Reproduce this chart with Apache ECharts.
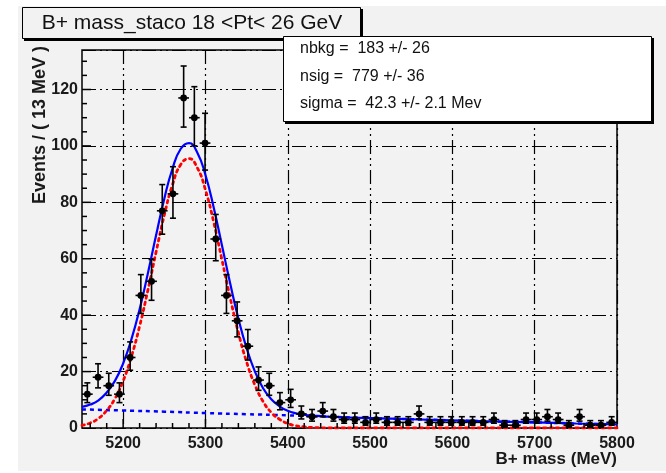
<!DOCTYPE html>
<html>
<head>
<meta charset="utf-8">
<script src="https://cdn.jsdelivr.net/npm/echarts@6/dist/echarts.min.js"></script>
<style>
  html, body { margin: 0; padding: 0; background: #fff; }
  #main { width: 666px; height: 473px; }
</style>
</head>
<body>
<div id="main"></div>
<script>
// binned data, 13 MeV bins from 5150 to 5800
var binWidth = 13;
var massBins = [5156.5, 5169.5, 5182.5, 5195.5, 5208.5, 5221.5, 5234.5, 5247.5, 5260.5, 5273.5,
  5286.5, 5299.5, 5312.5, 5325.5, 5338.5, 5351.5, 5364.5, 5377.5, 5390.5, 5403.5,
  5416.5, 5429.5, 5442.5, 5455.5, 5468.5, 5481.5, 5494.5, 5507.5, 5520.5, 5533.5,
  5546.5, 5559.5, 5572.5, 5585.5, 5598.5, 5611.5, 5624.5, 5637.5, 5650.5, 5663.5,
  5676.5, 5689.5, 5702.5, 5715.5, 5728.5, 5741.5, 5754.5, 5767.5, 5780.5, 5793.5];
var events = [12, 18, 15, 12, 25, 47, 52, 77, 83, 117,
  110, 101, 67, 47, 38, 29, 17, 15, 9, 10,
  5, 4, 6, 4, 3, 3, 2, 3, 2, 2,
  2, 5, 2, 2, 2, 2, 2, 2, 3, 1,
  1, 3, 3, 4, 3, 1, 4, 1, 1, 2];

// fit curves
var fitMass = [5150, 5160, 5170, 5180, 5190, 5200, 5210, 5220, 5230, 5240,
  5250, 5260, 5270, 5280, 5290, 5300, 5310, 5320, 5330, 5340,
  5350, 5360, 5370, 5380, 5390, 5400, 5410, 5420, 5430, 5440,
  5450, 5500, 5550, 5600, 5650, 5700, 5750, 5800];
var totalFit = [7.5, 8.3, 9.8, 12.6, 16.7, 22.9, 31.4, 42.1, 54.8, 68.3,
  81.3, 92.0, 99.0, 101.0, 97.7, 89.7, 78.2, 64.8, 51.3, 38.8,
  28.3, 20.1, 14.1, 10.2, 7.7, 6.1, 5.2, 4.7, 4.4, 4.2,
  4.0, 3.5, 3.1, 2.7, 2.3, 2.0, 1.6, 1.3];
var signalFit = [0.9, 1.8, 3.4, 6.2, 10.4, 16.7, 25.3, 36.1, 48.8, 62.4,
  75.5, 86.3, 93.4, 95.5, 92.3, 84.4, 73.0, 59.7, 46.2, 33.8,
  23.4, 15.3, 9.4, 5.5, 3.1, 1.6, 0.8, 0.4, 0.2, 0.1,
  0, 0, 0, 0, 0, 0, 0, 0];
var bkgMass = [5150, 5200, 5250, 5300, 5350, 5400, 5450, 5500, 5550, 5600, 5650, 5700, 5750, 5800];
var bkgFit = [6.6, 6.2, 5.8, 5.3, 4.9, 4.5, 4.0, 3.5, 3.1, 2.7, 2.3, 2.0, 1.6, 1.3];

var titleText = 'B+ mass_staco 18 <Pt< 26 GeV';
var statLines = ['nbkg =  183 +/- 26', 'nsig =  779 +/- 36', 'sigma =  42.3 +/- 2.1 Mev'];

var xMin = 5150, xMax = 5800, yMin = 0, yMax = 134;
var font = '"Liberation Sans", Arial, sans-serif';

// tick marks: [value, kind] kind 0 x major, 1 x minor, 2 y major, 3 y minor
var tickData = [];
for (var v = 5160; v < xMax; v += 20) tickData.push([v, v % 100 === 0 ? 0 : 1]);
for (var w = 5; w < yMax; w += 5) tickData.push([w, w % 20 === 0 ? 2 : 3]);

var pointData = massBins.map(function (m, i) {
  var n = events[i];
  var s = Math.sqrt(n + 0.25);
  return [m, n, s - 0.5, s + 0.5];
});

function renderPoint(params, api) {
  var m = api.value(0), n = api.value(1), lo = api.value(2), hi = api.value(3);
  var c = api.coord([m, n]);
  var t = api.coord([m, n + hi]);
  var b = api.coord([m, n - lo]);
  var l = api.coord([m - binWidth / 2, n]);
  var r = api.coord([m + binWidth / 2, n]);
  var st = { stroke: '#000', lineWidth: 1.6 };
  return {
    type: 'group',
    children: [
      { type: 'line', shape: { x1: c[0], y1: t[1], x2: c[0], y2: b[1] }, style: st },
      { type: 'line', shape: { x1: c[0] - 3, y1: t[1], x2: c[0] + 3, y2: t[1] }, style: st },
      { type: 'line', shape: { x1: c[0] - 3, y1: b[1], x2: c[0] + 3, y2: b[1] }, style: st },
      { type: 'line', shape: { x1: l[0], y1: c[1], x2: r[0], y2: c[1] }, style: st },
      { type: 'circle', shape: { cx: c[0], cy: c[1], r: 3.4 }, style: { fill: '#000' } }
    ]
  };
}

function renderTick(params, api) {
  var v = api.value(0), kind = api.value(1), p, shape;
  if (kind < 2) {
    p = api.coord([v, yMin]);
    shape = { x1: p[0], y1: p[1], x2: p[0], y2: p[1] - (kind === 0 ? 9 : 5) };
  } else {
    p = api.coord([xMin, v]);
    shape = { x1: p[0], y1: p[1], x2: p[0] + (kind === 2 ? 9 : 5), y2: p[1] };
  }
  return { type: 'line', shape: shape, style: { stroke: '#000', lineWidth: 1.5 } };
}

var gridDash = [14, 4, 2, 4, 2, 4];

var myChart = echarts.init(document.getElementById('main'));
var option = {
  animation: false,
  backgroundColor: '#ffffff',
  grid: {
    left: 82, top: 50, right: 49, bottom: 45,
    show: true,
    backgroundColor: 'transparent',
    borderColor: '#000',
    borderWidth: 1.5,
    containLabel: false,
    outerBoundsMode: 'none'
  },
  xAxis: {
    type: 'value',
    min: xMin, max: xMax, interval: 50,
    axisLine: { show: false },
    axisTick: { show: false },
    axisLabel: {
      margin: 8,
      color: '#1a1a1a', fontSize: 16, fontWeight: 'bold', fontFamily: font,
      formatter: function (val) { return val % 100 === 0 ? String(val) : ''; }
    },
    splitLine: {
      show: true,
      lineStyle: { color: ['rgba(0,0,0,0)', '#000'], width: 1.2, type: gridDash }
    }
  },
  yAxis: {
    type: 'value',
    min: yMin, max: yMax, interval: 20,
    axisLine: { show: false },
    axisTick: { show: false },
    axisLabel: {
      margin: 4, showMaxLabel: false,
      color: '#1a1a1a', fontSize: 16, fontWeight: 'bold', fontFamily: font
    },
    splitLine: {
      show: true,
      lineStyle: { color: '#000', width: 1.2, type: gridDash }
    }
  },
  graphic: [
    { type: 'rect', z: -100, shape: { x: 18, y: 6, width: 648, height: 465 }, style: { fill: '#f2f2f2' } },
    { type: 'text', z: 100, x: 40, y: 46, rotation: Math.PI / 2,
      style: { text: 'Events / ( 13 MeV )', align: 'right', verticalAlign: 'middle',
        font: 'bold 18px ' + font, fill: '#1a1a1a' } },
    { type: 'text', z: 100, x: 617, y: 459,
      style: { text: 'B+ mass (MeV)', align: 'right', verticalAlign: 'middle',
        font: 'bold 17px ' + font, fill: '#1a1a1a' } },
    { type: 'rect', z: 100, shape: { x: 24, y: 9, width: 339, height: 32 }, style: { fill: '#000' } },
    { type: 'rect', z: 101, shape: { x: 22.5, y: 7.5, width: 338, height: 31 },
      style: { fill: '#f2f2f2', stroke: '#000', lineWidth: 1 } },
    { type: 'text', z: 102, x: 192, y: 23,
      style: { text: titleText, align: 'center', verticalAlign: 'middle',
        font: '21px ' + font, fill: '#111' } },
    { type: 'rect', z: 100, shape: { x: 285, y: 38, width: 369, height: 86 }, style: { fill: '#000' } },
    { type: 'rect', z: 101, shape: { x: 283.5, y: 36.5, width: 368, height: 85 },
      style: { fill: '#ffffff', stroke: '#000', lineWidth: 1 } },
    { type: 'text', z: 102, x: 300, y: 49,
      style: { text: statLines[0], verticalAlign: 'middle', font: '16px ' + font, fill: '#111' } },
    { type: 'text', z: 102, x: 300, y: 77,
      style: { text: statLines[1], verticalAlign: 'middle', font: '16px ' + font, fill: '#111' } },
    { type: 'text', z: 102, x: 300, y: 104,
      style: { text: statLines[2], verticalAlign: 'middle', font: '16px ' + font, fill: '#111' } }
  ],
  series: [
    {
      name: 'background', type: 'line', data: bkgMass.map(function (m, i) { return [m, bkgFit[i]]; }),
      showSymbol: false, smooth: true, z: 3,
      lineStyle: { color: '#0000ff', width: 2.5, type: [4, 4] }
    },
    {
      name: 'signal', type: 'line', data: fitMass.map(function (m, i) { return [m, signalFit[i]]; }),
      showSymbol: false, smooth: true, z: 3,
      lineStyle: { color: '#ff0000', width: 2.8, type: [2.5, 4], cap: 'round' }
    },
    {
      name: 'total', type: 'line', data: fitMass.map(function (m, i) { return [m, totalFit[i]]; }),
      showSymbol: false, smooth: true, z: 4,
      lineStyle: { color: '#0000ff', width: 2.2 }
    },
    {
      name: 'data', type: 'custom', renderItem: renderPoint, data: pointData, z: 5, clip: true
    },
    {
      name: 'ticks', type: 'custom', renderItem: renderTick, data: tickData, z: 6, clip: false
    }
  ]
};
myChart.setOption(option);
</script>
</body>
</html>
